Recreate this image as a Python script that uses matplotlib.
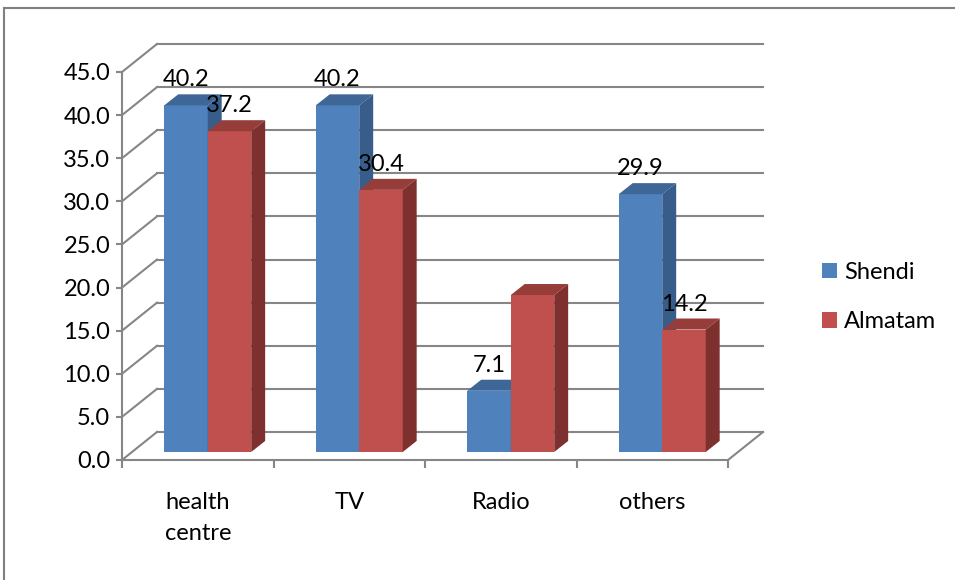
import numpy as np
import matplotlib.pyplot as plt
from matplotlib.patches import Polygon, Patch
from matplotlib.lines import Line2D

categories = ['health\ncentre', 'TV', 'Radio', 'others']
series = ['Shendi', 'Almatam']
shendi = [40.2, 40.2, 7.1, 29.9]
almatam = [37.2, 30.4, 18.2, 14.2]
shendi_labels = ['40.2', '40.2', '7.1', '29.9']
almatam_labels = ['37.2', '30.4', None, '14.2']
yticks = np.arange(0, 46, 5)

plt.rcParams['font.family'] = ['Lato', 'DejaVu Sans']
fs = 17

# (front, top, side) shades for each series
shades = {
    'Shendi': ('#4F81BD', '#3E6797', '#385D8A'),
    'Almatam': ('#C0504D', '#963D3A', '#7D302E'),
}
grid = '#868686'

# oblique projection offsets, in data units
wall_dx, wall_dy = 0.231, 3.25
bar_ox, bar_oy = 0.066, 0.93
bar_dx, bar_dy = 0.092, 1.28
gap, width = 0.213, 0.287

fig = plt.figure(figsize=(9.55, 5.8), dpi=100)
ax = fig.add_axes([122 / 955, 120 / 580, 606 / 955, 388 / 580])
ax.set_xlim(0, 4)
ax.set_ylim(0, 45)

# back wall / floor gridlines
for v in yticks:
    ax.plot([0, wall_dx], [v, v + wall_dy], color=grid, lw=1.5, clip_on=False, zorder=1)
    ax.plot([wall_dx, 4 + wall_dx], [v + wall_dy] * 2, color=grid, lw=1.5, clip_on=False, zorder=1)
ax.plot([4, 4 + wall_dx], [0, wall_dy], color=grid, lw=1.5, clip_on=False, zorder=1)

data = {'Shendi': (shendi, shendi_labels), 'Almatam': (almatam, almatam_labels)}
for i in range(len(categories)):
    for j, name in enumerate(series):
        vals, labs = data[name]
        v = vals[i]
        front, top, side = shades[name]
        z = 3 + i * 2 + j
        x0 = i + gap + j * width + bar_ox
        x1 = x0 + width
        y1 = v + bar_oy
        ax.bar(x0, v, width, bottom=bar_oy, align='edge', color=front,
               linewidth=0, zorder=z, clip_on=False)
        ax.add_patch(Polygon([(x0, y1), (x1, y1), (x1 + bar_dx, y1 + bar_dy),
                              (x0 + bar_dx, y1 + bar_dy)], closed=True,
                             facecolor=top, edgecolor='none', zorder=z, clip_on=False))
        ax.add_patch(Polygon([(x1, bar_oy), (x1, y1), (x1 + bar_dx, y1 + bar_dy),
                              (x1 + bar_dx, bar_oy + bar_dy)], closed=True,
                             facecolor=side, edgecolor='none', zorder=z, clip_on=False))
        if labs[i]:
            ax.text((x0 + x1) / 2, y1 + 2.2, labs[i], ha='center', va='baseline',
                    fontsize=fs, zorder=20)

for s in ['top', 'right']:
    ax.spines[s].set_visible(False)
for s in ['left', 'bottom']:
    ax.spines[s].set_color(grid)
    ax.spines[s].set_linewidth(1.5)
    ax.spines[s].set_zorder(2)

ax.set_yticks(yticks)
ax.set_yticklabels([f'{v:.1f}' for v in yticks])
ax.tick_params(axis='y', length=4.5, width=1.5, color=grid, pad=4, labelsize=fs)

ax.set_xticks(range(5))
ax.set_xticklabels([])
ax.tick_params(axis='x', which='major', length=6, width=1.5, color=grid)
ax.set_xticks(np.arange(4) + 0.5, minor=True)
ax.set_xticklabels(categories, minor=True)
ax.tick_params(axis='x', which='minor', length=0, pad=23, labelsize=fs)
for t in ax.get_xticklabels(minor=True):
    t.set_linespacing(1.6)

handles = [Patch(facecolor=shades[n][0]) for n in series]
fig.legend(handles, series, loc='upper left', bbox_to_anchor=(822 / 955, 1 - 262 / 580),
           frameon=False, fontsize=fs, handlelength=0.62, handleheight=0.62,
           labelspacing=1.2, handletextpad=0.3, borderpad=0, borderaxespad=0)

# outer chart border
fig.add_artist(Line2D([4 / 955, 1], [1 - 8 / 580] * 2, transform=fig.transFigure,
                      color='#808080', lw=1.5))
fig.add_artist(Line2D([4 / 955] * 2, [0, 1 - 8 / 580], transform=fig.transFigure,
                      color='#808080', lw=1.5))

fig.savefig('out.png', dpi=100)
